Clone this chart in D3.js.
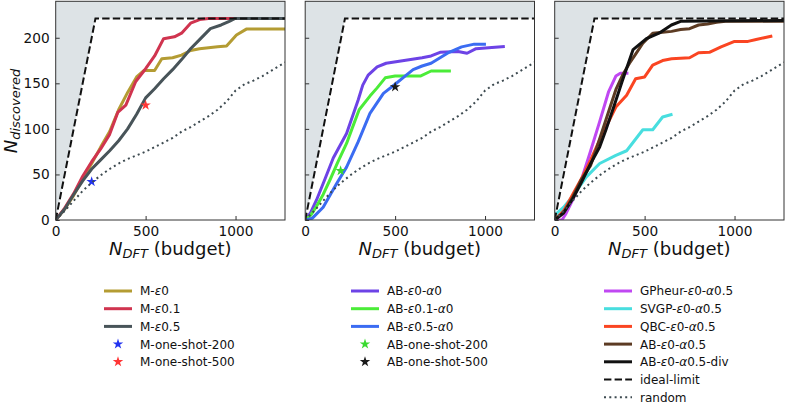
<!DOCTYPE html>
<html><head><meta charset="utf-8">
<script src="https://cdn.jsdelivr.net/npm/d3@7"></script>
<style>body{margin:0;background:#fff}svg{display:block}text{font-family:"DejaVu Sans",sans-serif;fill:#111}</style>
</head><body><svg id="c" width="787" height="404"></svg>
<script>
// ---- data ----
const xTicks = [0, 500, 1000];
const yTicks = [0, 50, 100, 150, 200];
const xMax = 1275, yMax = 240;

const idealLimit = [[0,0],[221,221],[1275,221]];
const randomBaseline = [[0,0],[50,10],[100,21],[150,32],[200,41],[250,49],[300,56],[350,62],[400,67],[450,71],[500,75],[550,80],[600,85],[650,90],[700,97],[750,102],[800,108],[850,114],[900,121],[950,130],[1000,142],[1050,149],[1100,153],[1150,158],[1200,164],[1275,173]];

const mEps0   = [[0,0],[50,12],[100,27],[150,45],[200,62],[250,80],[300,97],[350,121],[400,140],[450,157],[490,164],[550,164],[590,177],[650,178],[700,181],[750,186],[800,188],[850,189],[900,190],[950,191],[1005,203],[1060,209.5],[1275,209.5]];
const mEps01  = [[0,0],[50,13],[100,29],[150,48],[200,64],[250,78],[300,94],[345,118],[390,126],[445,152],[500,166],[550,180],[600,199],[660,201],[700,205],[750,216],[800,220],[850,221],[1275,221]];
const mEps05  = [[0,0],[50,12],[100,28],[150,43],[200,56],[250,66],[300,76],[350,87],[400,100],[450,116],[500,134],[550,144],[600,155],[650,165],[700,176],[750,188],[800,198],[860,210],[920,214],[965,218],[995,221],[1275,221]];
const mOneShot200 = [[200,42]];
const mOneShot500 = [[500,126]];

const abEps0   = [[0,0],[30,8],[63,22],[110,45],[156,68],[230,95],[295,132],[320,148],[350,159],[400,168],[450,172],[550,175],[650,178],[700,180],[750,184],[850,185],[900,183],[950,188],[1020,189],[1110,190.5]];
const abEps01  = [[0,0],[30,5],[60,14],[100,28],[140,45],[180,63],[230,84],[260,100],[300,121],[360,136],[400,145],[445,156],[500,158],[640,158],[700,163.5],[810,163.5]];
const abEps05  = [[0,0],[40,2],[100,14],[175,40],[230,58],[295,86],[360,117],[435,139],[500,149],[550,157],[600,165],[650,169],[700,172],[750,178],[800,184],[870,190],[940,193],[1005,193]];
const abOneShot200 = [[197,54]];
const abOneShot500 = [[500,146]];

const gpHeur  = [[0,0],[40,0],[60,6],[100,22],[150,45],[200,76],[250,108],[300,141],[340,158],[365,161],[410,161]];
const svgp    = [[0,3],[10,7],[50,14],[100,26],[175,47],[250,62],[340,71],[400,76],[490,99],[545,99],[600,113],[655,116]];
const qbc     = [[0,0],[50,10],[100,28],[156,48],[200,66],[250,88],[285,102],[340,124],[400,137],[450,155],[500,157],[545,170],[600,175],[650,177],[750,178],[800,183.5],[860,184],[925,190],[1000,196],[1075,196],[1120,198],[1165,200],[1210,202]];
const abA05   = [[0,0],[50,8],[100,25],[150,45],[200,60],[230,77],[285,110],[340,143],[380,160],[416,172],[450,182],[490,194],[545,205],[600,206],[650,207],[700,209],[750,210],[800,214],[850,215],[900,217],[950,218],[1275,218]];
const abA05div= [[0,0],[50,8],[100,23],[150,42],[200,62],[250,80],[285,99],[330,125],[378,154],[436,187],[510,199],[580,205],[649,214],[700,218],[1275,219]];

// ---- styles ----
const C = {
  olive:'#b49c33', crimson:'#d0344f', slate:'#485459',
  purple:'#6d43e6', lime:'#4bec38', blue:'#3b6cf2',
  magenta:'#c048f2', cyan:'#48dedf', orange:'#fa4522', brown:'#5c3b23', black:'#111111',
  grey:'#3d4a50'
};

const panels = [
  { lines:[{d:mEps0,c:C.olive,l:['M-',['ε'],'0']},{d:mEps01,c:C.crimson,l:['M-',['ε'],'0.1']},{d:mEps05,c:C.slate,l:['M-',['ε'],'0.5']}],
    stars:[{d:mOneShot200,c:'#2233f0',l:['M-one-shot-200']},{d:mOneShot500,c:'#ff3535',l:['M-one-shot-500']}],
    extra:false, legX:104 },
  { lines:[{d:abEps0,c:C.purple,l:['AB-',['ε'],'0-',['α'],'0']},{d:abEps01,c:C.lime,l:['AB-',['ε'],'0.1-',['α'],'0']},{d:abEps05,c:C.blue,l:['AB-',['ε'],'0.5-',['α'],'0']}],
    stars:[{d:abOneShot200,c:'#3ada30',l:['AB-one-shot-200']},{d:abOneShot500,c:'#1a1a1a',l:['AB-one-shot-500']}],
    extra:false, legX:351 },
  { lines:[{d:gpHeur,c:C.magenta,l:['GPheur-',['ε'],'0-',['α'],'0.5']},{d:svgp,c:C.cyan,l:['SVGP-',['ε'],'0-',['α'],'0.5']},{d:qbc,c:C.orange,l:['QBC-',['ε'],'0-',['α'],'0.5']},{d:abA05,c:C.brown,l:['AB-',['ε'],'0-',['α'],'0.5']},{d:abA05div,c:C.black,l:['AB-',['ε'],'0-',['α'],'0.5-div']}],
    stars:[], extra:true, legX:604 }
];

const svg = d3.select('#c');
const W = 229.3, TOP = 1.3, BOT = 220;
const lefts = [55.7, 305.2, 554.7];
const y = d3.scaleLinear().domain([0, yMax]).range([BOT, TOP]);
const star = d3.symbol().type(d3.symbolStar).size(34);

function addLabel(t, parts){
  parts.forEach(p=>{
    if (Array.isArray(p)) t.append('tspan').attr('font-style','italic').text(p[0]);
    else t.append('tspan').text(p);
  });
}

panels.forEach((p,i)=>{
  const x = d3.scaleLinear().domain([0, xMax]).range([lefts[i], lefts[i]+W]);
  const cid = 'clip'+i;
  svg.append('clipPath').attr('id',cid).append('rect')
    .attr('x',lefts[i]).attr('y',TOP).attr('width',W).attr('height',BOT-TOP);
  const pg = svg.append('g').attr('clip-path',`url(#${cid})`);
  pg.append('path').datum(idealLimit)
    .attr('d', d3.area().x(d=>x(d[0])).y0(y(yMax)).y1(d=>y(d[1])))
    .attr('fill','#dde3e6');
  const line = d3.line().x(d=>x(d[0])).y(d=>y(d[1]));
  p.lines.forEach(s=>{
    pg.append('path').datum(s.d).attr('d',line).attr('fill','none')
      .attr('stroke',s.c).attr('stroke-width',3).attr('stroke-linejoin','round');
  });
  p.stars.forEach(s=>{
    pg.selectAll(null).data(s.d).enter().append('path')
      .attr('d',star).attr('transform',d=>`translate(${x(d[0])},${y(d[1])})`)
      .attr('fill',s.c);
  });
  pg.append('path').datum(idealLimit).attr('d',line).attr('fill','none')
    .attr('stroke','#111').attr('stroke-width',2).attr('stroke-dasharray','7.4,3.2');
  pg.append('path').datum(randomBaseline).attr('d',line).attr('fill','none')
    .attr('stroke',C.grey).attr('stroke-width',2).attr('stroke-dasharray','2,3.3');

  const ax = svg.append('g').attr('transform',`translate(0,${BOT})`)
    .call(d3.axisBottom(x).tickValues(xTicks).tickSize(-4).tickPadding(6).tickFormat(d3.format('d')));
  const ay = svg.append('g').attr('transform',`translate(${lefts[i]},0)`)
    .call(d3.axisLeft(y).tickValues(yTicks).tickSize(-4).tickPadding(6).tickFormat(i===0?d3.format('d'):()=>''));
  [ax,ay].forEach(a=>{
    a.select('.domain').remove();
    a.selectAll('line').attr('stroke','#333');
    a.selectAll('text').attr('font-size',13.7).attr('fill','#111').attr('font-family','DejaVu Sans');
  });
  svg.append('rect').attr('x',lefts[i]).attr('y',TOP).attr('width',W).attr('height',BOT-TOP)
    .attr('fill','none').attr('stroke','#333').attr('stroke-width',1);

  const xl = svg.append('text').attr('x',lefts[i]+W/2).attr('y',254.5).attr('text-anchor','middle').attr('font-size',18);
  xl.append('tspan').attr('font-style','italic').text('N');
  xl.append('tspan').attr('font-style','italic').attr('font-size','13px').attr('dy',3.5).text('DFT');
  xl.append('tspan').attr('dy',-3.5).text(' (budget)');

  const lg = svg.append('g');
  const rowY = k => 291 + k*17.7;
  let k = 0;
  const lx0 = p.legX, lx1 = p.legX+28, tx = p.legX+36;
  p.lines.forEach(s=>{
    lg.append('line').attr('x1',lx0).attr('x2',lx1).attr('y1',rowY(k)).attr('y2',rowY(k))
      .attr('stroke',s.c).attr('stroke-width',3);
    const t = lg.append('text').attr('x',tx).attr('y',rowY(k)+4.4).attr('font-size',12);
    addLabel(t, s.l); k++;
  });
  p.stars.forEach(s=>{
    lg.append('path').attr('d',star).attr('transform',`translate(${(lx0+lx1)/2},${rowY(k)})`).attr('fill',s.c);
    const t = lg.append('text').attr('x',tx).attr('y',rowY(k)+4.4).attr('font-size',12);
    addLabel(t, s.l); k++;
  });
  if (p.extra){
    lg.append('line').attr('x1',lx0).attr('x2',lx1).attr('y1',rowY(k)).attr('y2',rowY(k))
      .attr('stroke','#111').attr('stroke-width',2).attr('stroke-dasharray','7.4,3.2');
    lg.append('text').attr('x',tx).attr('y',rowY(k)+4.4).attr('font-size',12).text('ideal-limit'); k++;
    lg.append('line').attr('x1',lx0).attr('x2',lx1).attr('y1',rowY(k)).attr('y2',rowY(k))
      .attr('stroke',C.grey).attr('stroke-width',2).attr('stroke-dasharray','2,3.3');
    lg.append('text').attr('x',tx).attr('y',rowY(k)+4.4).attr('font-size',12).text('random'); k++;
  }
});

const yl = svg.append('text').attr('transform','translate(16.5,111) rotate(-90)').attr('text-anchor','middle').attr('font-size',18);
yl.append('tspan').attr('font-style','italic').text('N');
yl.append('tspan').attr('font-style','italic').attr('font-size','13px').attr('dy',3.5).text('discovered');
</script>
</body></html>
